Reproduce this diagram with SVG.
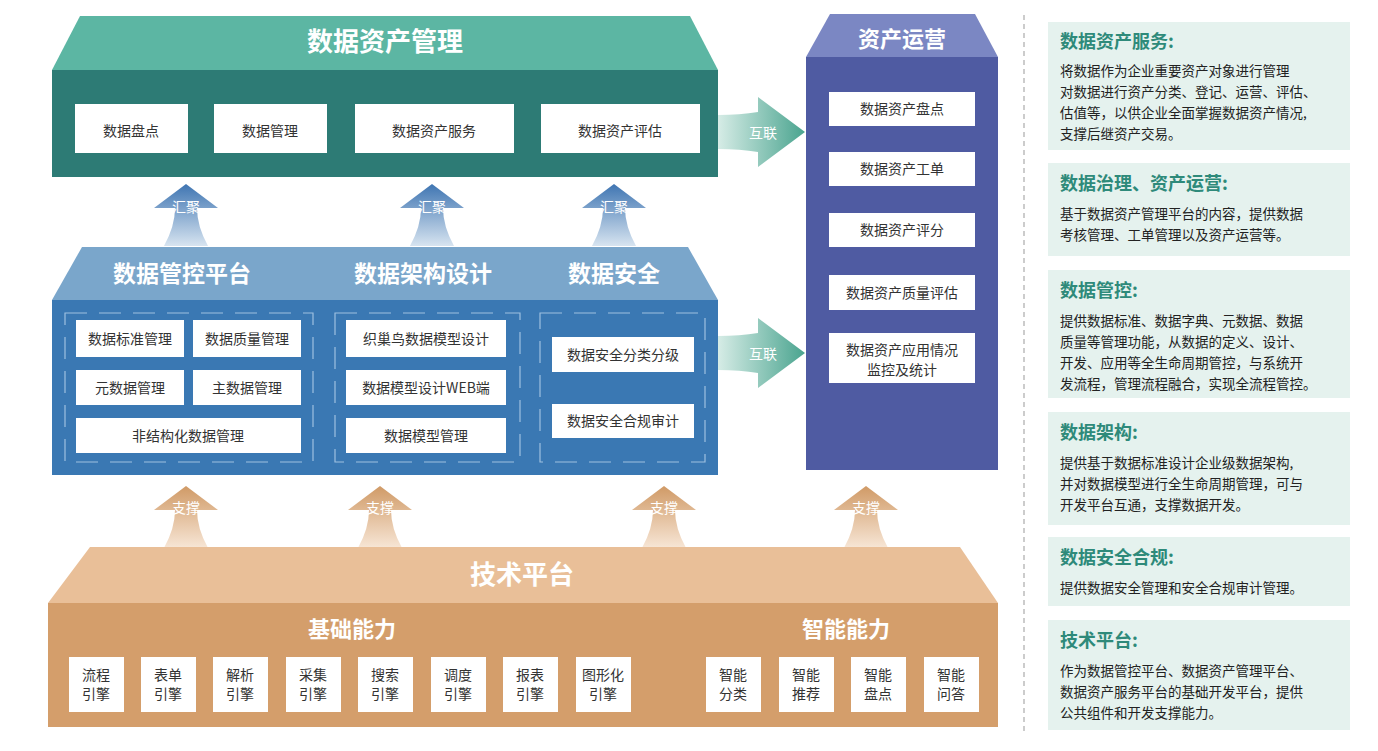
<svg xmlns="http://www.w3.org/2000/svg" width="1378" height="751" viewBox="0 0 1378 751">
<defs>
<style>
text{font-family:"Noto Sans CJK SC","Noto Sans",sans-serif}
.t{fill:#fff;font-weight:bold;text-anchor:middle}
.b{fill:#fff}
.bt{fill:#333;text-anchor:middle;font-size:14px}
.pt{fill:#2e8a7a;font-weight:bold;font-size:18px}
.pb{fill:#222;font-size:13.5px}
.panel{fill:#e5f2ee}
.al{fill:#fff;font-size:14px;text-anchor:middle}
</style>
<linearGradient id="gb" x1="0" y1="0" x2="0" y2="1"><stop offset="0" stop-color="#3f75b2"/><stop offset="1" stop-color="#d7e4f0"/></linearGradient>
<linearGradient id="go" x1="0" y1="0" x2="0" y2="1"><stop offset="0" stop-color="#d09a66"/><stop offset="1" stop-color="#f7e6d6"/></linearGradient>
<linearGradient id="gg" x1="0" y1="0" x2="1" y2="0"><stop offset="0" stop-color="#d6ece6"/><stop offset="1" stop-color="#4aa48f"/></linearGradient>
<path id="up" d="M-22,0 Q-11,-20 -11,-38 L-32,-38 L0,-62 L32,-38 L11,-38 Q11,-20 22,0 Z"/>
<path id="rt" d="M0,18 Q22,18 40,15 L40,0 L87,35 L40,70 L40,55 Q22,52 0,52 Z"/>
</defs>
<g id="connectors">
<use href="#up" x="186" y="246" fill="url(#gb)"/><text class="al" x="186" y="212">汇聚</text>
<use href="#up" x="432" y="246" fill="url(#gb)"/><text class="al" x="432" y="212">汇聚</text>
<use href="#up" x="614" y="246" fill="url(#gb)"/><text class="al" x="614" y="212">汇聚</text>
<use href="#up" x="186" y="548" fill="url(#go)"/><text class="al" x="186" y="513">支撑</text>
<use href="#up" x="380" y="548" fill="url(#go)"/><text class="al" x="380" y="513">支撑</text>
<use href="#up" x="664" y="548" fill="url(#go)"/><text class="al" x="664" y="513">支撑</text>
<use href="#up" x="866" y="548" fill="url(#go)"/><text class="al" x="866" y="513">支撑</text>
<use href="#rt" x="718" y="97" fill="url(#gg)"/><text class="al" x="763" y="138" font-size="17">互联</text>
<use href="#rt" x="718" y="318" fill="url(#gg)"/><text class="al" x="763" y="359" font-size="17">互联</text>
</g>
<g id="asset-mgmt">
<path d="M80,16 L690,16 L718,70 L52,70 Z" fill="#5cb6a3"/>
<rect x="52" y="70" width="666" height="107" fill="#2d7b75"/>
<text class="t" x="385" y="51" font-size="26">数据资产管理</text>
<rect class="b" x="75" y="104" width="113" height="49"/><text class="bt" x="131" y="136" font-size="19">数据盘点</text>
<rect class="b" x="214" y="104" width="113" height="49"/><text class="bt" x="270" y="136" font-size="19">数据管理</text>
<rect class="b" x="355" y="104" width="159" height="49"/><text class="bt" x="434" y="136" font-size="19">数据资产服务</text>
<rect class="b" x="541" y="104" width="159" height="49"/><text class="bt" x="620" y="136" font-size="19">数据资产评估</text>
</g>
<g id="data-control">
<path d="M82,247 L688,247 L718,300 L52,300 Z" fill="#7aa6cb"/>
<rect x="52" y="300" width="666" height="175" fill="#3a78b3"/>
<text class="t" x="182" y="282" font-size="23">数据管控平台</text>
<text class="t" x="423" y="282" font-size="23">数据架构设计</text>
<text class="t" x="614" y="282" font-size="23">数据安全</text>
<g fill="none" stroke="#9dc0e0" stroke-width="1.2" stroke-dasharray="22,12">
<rect x="65" y="313" width="248" height="149"/><rect x="335" y="313" width="185" height="149"/><rect x="540" y="313" width="165" height="149"/>
</g>
<rect class="b" x="76" y="320" width="108" height="37"/><text class="bt" x="130" y="344">数据标准管理</text>
<rect class="b" x="193" y="320" width="108" height="37"/><text class="bt" x="247" y="344">数据质量管理</text>
<rect class="b" x="76" y="370" width="108" height="35"/><text class="bt" x="130" y="393">元数据管理</text>
<rect class="b" x="193" y="370" width="108" height="35"/><text class="bt" x="247" y="393">主数据管理</text>
<rect class="b" x="76" y="418" width="225" height="35"/><text class="bt" x="188" y="441">非结构化数据管理</text>
<rect class="b" x="346" y="320" width="160" height="37"/><text class="bt" x="426" y="344">织巢鸟数据模型设计</text>
<rect class="b" x="346" y="370" width="160" height="35"/><text class="bt" x="426" y="393">数据模型设计WEB端</text>
<rect class="b" x="346" y="418" width="160" height="35"/><text class="bt" x="426" y="441">数据模型管理</text>
<rect class="b" x="552" y="337" width="142" height="35"/><text class="bt" x="623" y="360">数据安全分类分级</text>
<rect class="b" x="552" y="404" width="142" height="34"/><text class="bt" x="623" y="426">数据安全合规审计</text>
</g>
<g id="asset-ops">
<path d="M830,14 L975,14 L998,57 L806,57 Z" fill="#7b87c3"/>
<rect x="806" y="57" width="192" height="413" fill="#4f5ba2"/>
<text class="t" x="902" y="47" font-size="22">资产运营</text>
<rect class="b" x="829" y="92" width="146" height="34"/><text class="bt" x="902" y="114">数据资产盘点</text>
<rect class="b" x="829" y="152" width="146" height="34"/><text class="bt" x="902" y="174">数据资产工单</text>
<rect class="b" x="829" y="213" width="146" height="34"/><text class="bt" x="902" y="235">数据资产评分</text>
<rect class="b" x="829" y="275" width="146" height="35"/><text class="bt" x="902" y="298">数据资产质量评估</text>
<rect class="b" x="829" y="333" width="146" height="50"/><text class="bt" x="902" y="355">数据资产应用情况</text><text class="bt" x="902" y="375">监控及统计</text>
</g>
<g id="tech-platform">
<path d="M90,547 L960,547 L998,603 L48,603 Z" fill="#e9bf98"/>
<rect x="48" y="603" width="950" height="124" fill="#d49e6b"/>
<text class="t" x="522" y="584" font-size="26">技术平台</text>
<text class="t" x="352" y="637" font-size="22">基础能力</text>
<text class="t" x="846" y="637" font-size="22">智能能力</text>
<g font-size="14">
<rect class="b" x="69" y="657" width="55" height="55"/><text class="bt" x="96" y="680">流程</text><text class="bt" x="96" y="699">引擎</text>
<rect class="b" x="141" y="657" width="55" height="55"/><text class="bt" x="168" y="680">表单</text><text class="bt" x="168" y="699">引擎</text>
<rect class="b" x="213" y="657" width="55" height="55"/><text class="bt" x="240" y="680">解析</text><text class="bt" x="240" y="699">引擎</text>
<rect class="b" x="286" y="657" width="55" height="55"/><text class="bt" x="313" y="680">采集</text><text class="bt" x="313" y="699">引擎</text>
<rect class="b" x="358" y="657" width="55" height="55"/><text class="bt" x="385" y="680">搜索</text><text class="bt" x="385" y="699">引擎</text>
<rect class="b" x="431" y="657" width="55" height="55"/><text class="bt" x="458" y="680">调度</text><text class="bt" x="458" y="699">引擎</text>
<rect class="b" x="503" y="657" width="55" height="55"/><text class="bt" x="530" y="680">报表</text><text class="bt" x="530" y="699">引擎</text>
<rect class="b" x="576" y="657" width="55" height="55"/><text class="bt" x="603" y="680">图形化</text><text class="bt" x="603" y="699">引擎</text>
<rect class="b" x="706" y="657" width="55" height="55"/><text class="bt" x="733" y="680">智能</text><text class="bt" x="733" y="699">分类</text>
<rect class="b" x="779" y="657" width="55" height="55"/><text class="bt" x="806" y="680">智能</text><text class="bt" x="806" y="699">推荐</text>
<rect class="b" x="851" y="657" width="55" height="55"/><text class="bt" x="878" y="680">智能</text><text class="bt" x="878" y="699">盘点</text>
<rect class="b" x="924" y="657" width="55" height="55"/><text class="bt" x="951" y="680">智能</text><text class="bt" x="951" y="699">问答</text>
</g>
</g>
<line x1="1024" y1="15" x2="1024" y2="732" stroke="#999" stroke-dasharray="5,4"/>
<g id="panels">
<rect class="panel" x="1048" y="22" width="302" height="128"/>
<text class="pt" x="1060" y="48">数据资产服务:</text>
<text class="pb" x="1060" y="76">将数据作为企业重要资产对象进行管理</text>
<text class="pb" x="1060" y="97">对数据进行资产分类、登记、运营、评估、</text>
<text class="pb" x="1060" y="118">估值等，以供企业全面掌握数据资产情况,</text>
<text class="pb" x="1060" y="139">支撑后继资产交易。</text>
<rect class="panel" x="1048" y="163" width="302" height="93"/>
<text class="pt" x="1060" y="190">数据治理、资产运营:</text>
<text class="pb" x="1060" y="219">基于数据资产管理平台的内容，提供数据</text>
<text class="pb" x="1060" y="240">考核管理、工单管理以及资产运营等。</text>
<rect class="panel" x="1048" y="270" width="302" height="128"/>
<text class="pt" x="1060" y="297">数据管控:</text>
<text class="pb" x="1060" y="326">提供数据标准、数据字典、元数据、数据</text>
<text class="pb" x="1060" y="347">质量等管理功能，从数据的定义、设计、</text>
<text class="pb" x="1060" y="368">开发、应用等全生命周期管控，与系统开</text>
<text class="pb" x="1060" y="389">发流程，管理流程融合，实现全流程管控。</text>
<rect class="panel" x="1048" y="412" width="302" height="113"/>
<text class="pt" x="1060" y="439">数据架构:</text>
<text class="pb" x="1060" y="468">提供基于数据标准设计企业级数据架构,</text>
<text class="pb" x="1060" y="489">并对数据模型进行全生命周期管理，可与</text>
<text class="pb" x="1060" y="510">开发平台互通，支撑数据开发。</text>
<rect class="panel" x="1048" y="537" width="302" height="69"/>
<text class="pt" x="1060" y="564">数据安全合规:</text>
<text class="pb" x="1060" y="593">提供数据安全管理和安全合规审计管理。</text>
<rect class="panel" x="1048" y="620" width="302" height="110"/>
<text class="pt" x="1060" y="647">技术平台:</text>
<text class="pb" x="1060" y="676">作为数据管控平台、数据资产管理平台、</text>
<text class="pb" x="1060" y="697">数据资产服务平台的基础开发平台，提供</text>
<text class="pb" x="1060" y="718">公共组件和开发支撑能力。</text>
</g>
</svg>
